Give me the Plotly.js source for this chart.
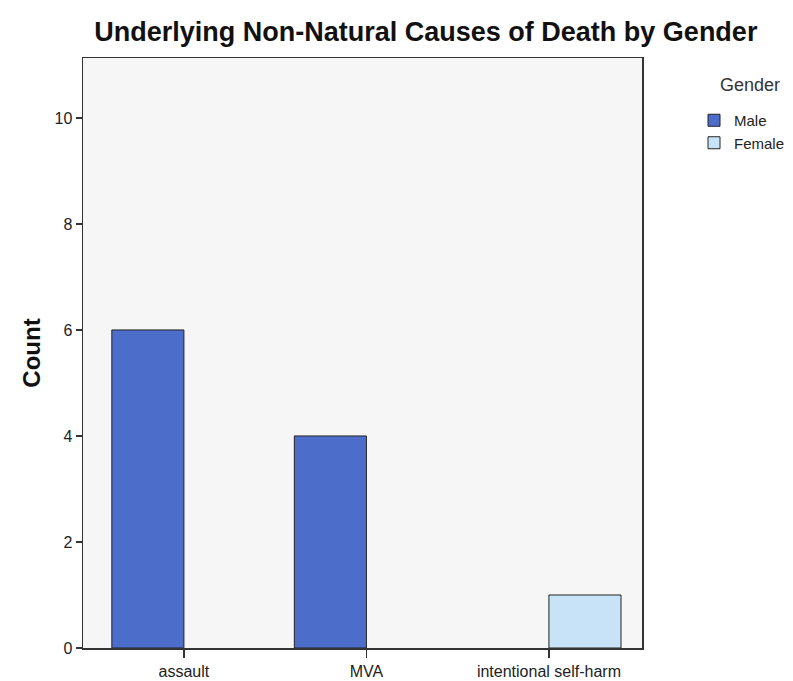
<!DOCTYPE html>
<html>
<head>
<meta charset="utf-8">
<script src="https://cdn.plot.ly/plotly-3.0.1.min.js"></script>
<style>html,body{margin:0;padding:0;background:#fff;}#chart{width:793px;height:681px;}</style>
</head>
<body>
<div id="chart"></div>
<script>
const categories = ["assault", "MVA", "intentional self-harm"];
const maleCounts = [6, 4, null];
const femaleCounts = [null, null, 1];
const seriesNames = ["Male", "Female"];
const legendTitle = "Gender";
const yTicks = [0, 2, 4, 6, 8, 10];

const font = "Arial, 'Liberation Sans', sans-serif";

const traces = [
  {
    type: "bar", name: seriesNames[0], x: categories, y: maleCounts,
    marker: {color: "#4d6dca", line: {color: "#222", width: 1}}
  },
  {
    type: "bar", name: seriesNames[1], x: categories, y: femaleCounts,
    marker: {color: "#c8e3f7", line: {color: "#222", width: 1}}
  }
];

const layout = {
  width: 793, height: 681,
  margin: {l: 83, r: 151, t: 58, b: 33},
  paper_bgcolor: "#ffffff",
  plot_bgcolor: "#f6f6f6",
  barmode: "group",
  bargap: 0.21,
  bargroupgap: 0,
  font: {family: font, color: "#222", size: 15},
  title: {
    text: "Underlying Non-Natural Causes of Death by Gender",
    font: {family: font, size: 27, color: "#111", weight: "bold"},
    x: 0.537, xref: "container", xanchor: "center",
    y: 1 - 32/681, yref: "container", yanchor: "middle"
  },
  xaxis: {
    type: "category",
    range: [-0.553, 2.51],
    showline: true, mirror: true, linecolor: "#333", linewidth: 1.5,
    ticks: "outside", ticklen: 8, tickcolor: "#333", tickwidth: 1.5,
    tickfont: {size: 16, color: "#222"},
    showgrid: false, zeroline: false,
    automargin: false
  },
  yaxis: {
    range: [0, 11.13],
    tickvals: yTicks,
    showline: true, mirror: true, linecolor: "#333", linewidth: 1.5,
    ticks: "outside", ticklen: 6, tickcolor: "#333", tickwidth: 1.5,
    tickfont: {size: 16, color: "#222"},
    showgrid: false, zeroline: false,
    automargin: false,
    title: {text: "Count", font: {size: 24, weight: "bold", color: "#111"}, standoff: 7}
  },
  legend: {
    xref: "container", x: 694/793, xanchor: "left",
    yref: "container", y: 1 - 104/681, yanchor: "top",
    font: {size: 15, color: "#222"},
    bgcolor: "rgba(0,0,0,0)",
    tracegroupgap: 0, itemwidth: 30
  },
  annotations: [{
    text: legendTitle, xref: "paper", yref: "paper",
    x: (750 - 83) / 559, y: 1 - (85 - 58) / 590,
    xanchor: "center", yanchor: "middle", showarrow: false,
    font: {size: 18, color: "#333"}
  }],
  showlegend: true
};

Plotly.newPlot("chart", traces, layout, {displayModeBar: false, staticPlot: true});
</script>
</body>
</html>
